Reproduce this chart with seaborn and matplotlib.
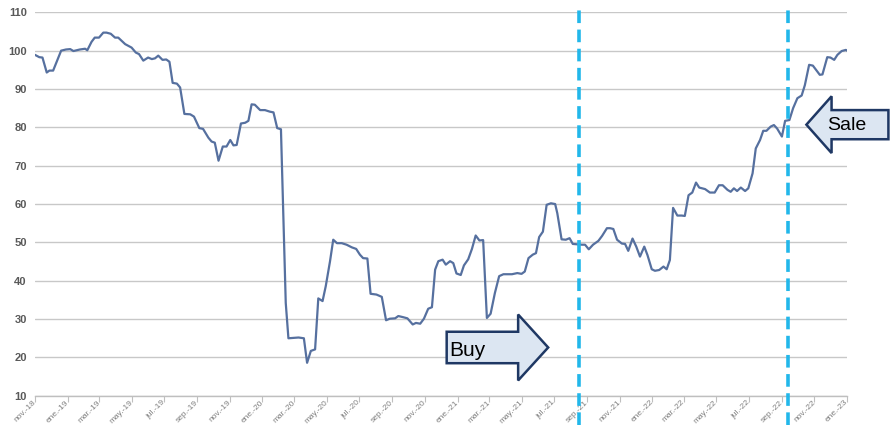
import matplotlib
matplotlib.use("Agg")
import matplotlib.pyplot as plt
import matplotlib.dates as mdates
from matplotlib.patches import Polygon
from matplotlib.ticker import FuncFormatter
import pandas as pd
import seaborn as sns

# price index
dates = [
    "2018-11-01", "2018-11-09", "2018-11-15", "2018-11-23", "2018-11-28", "2018-12-05",
    "2018-12-13", "2018-12-20", "2018-12-29", "2019-01-06", "2019-01-12", "2019-01-24",
    "2019-02-03", "2019-02-07", "2019-02-15", "2019-02-21", "2019-03-01", "2019-03-09",
    "2019-03-15", "2019-03-23", "2019-03-31", "2019-04-06", "2019-04-19", "2019-05-01",
    "2019-05-09", "2019-05-15", "2019-05-23", "2019-06-01", "2019-06-08", "2019-06-14",
    "2019-06-20", "2019-06-28", "2019-07-05", "2019-07-11", "2019-07-17", "2019-07-25",
    "2019-07-31", "2019-08-08", "2019-08-19", "2019-08-26", "2019-09-05", "2019-09-12",
    "2019-09-22", "2019-09-28", "2019-10-04", "2019-10-11", "2019-10-19", "2019-10-26",
    "2019-11-02", "2019-11-08", "2019-11-14", "2019-11-22", "2019-11-30", "2019-12-06",
    "2019-12-12", "2019-12-18", "2019-12-28", "2020-01-06", "2020-01-15", "2020-01-22",
    "2020-01-29", "2020-02-05", "2020-02-14", "2020-02-19", "2020-02-28", "2020-03-09",
    "2020-03-19", "2020-03-25", "2020-04-01", "2020-04-09", "2020-04-15", "2020-04-23",
    "2020-04-29", "2020-05-07", "2020-05-13", "2020-05-20", "2020-05-29", "2020-06-07",
    "2020-06-17", "2020-06-25", "2020-07-02", "2020-07-08", "2020-07-16", "2020-07-22",
    "2020-08-02", "2020-08-12", "2020-08-20", "2020-08-27", "2020-09-06", "2020-09-12",
    "2020-09-21", "2020-09-29", "2020-10-09", "2020-10-15", "2020-10-23", "2020-10-30",
    "2020-11-07", "2020-11-14", "2020-11-20", "2020-11-26", "2020-12-04", "2020-12-10",
    "2020-12-18", "2020-12-24", "2020-12-30", "2021-01-07", "2021-01-13", "2021-01-21",
    "2021-01-28", "2021-02-04", "2021-02-11", "2021-02-18", "2021-02-25", "2021-03-04",
    "2021-03-12", "2021-03-20", "2021-03-28", "2021-04-13", "2021-04-23", "2021-05-01",
    "2021-05-07", "2021-05-14", "2021-05-22", "2021-05-28", "2021-06-03", "2021-06-10",
    "2021-06-17", "2021-06-25", "2021-07-03", "2021-07-07", "2021-07-15", "2021-07-23",
    "2021-07-30", "2021-08-05", "2021-08-13", "2021-08-22", "2021-08-28", "2021-09-04",
    "2021-09-12", "2021-09-22", "2021-09-29", "2021-10-08", "2021-10-14", "2021-10-20",
    "2021-10-27", "2021-11-05", "2021-11-11", "2021-11-17", "2021-11-25", "2021-12-02",
    "2021-12-09", "2021-12-17", "2021-12-23", "2021-12-31", "2022-01-06", "2022-01-14",
    "2022-01-22", "2022-01-28", "2022-02-03", "2022-02-09", "2022-02-17", "2022-02-25",
    "2022-03-03", "2022-03-10", "2022-03-17", "2022-03-24", "2022-03-30", "2022-04-10",
    "2022-04-19", "2022-04-28", "2022-05-06", "2022-05-13", "2022-05-22", "2022-05-28",
    "2022-06-03", "2022-06-09", "2022-06-16", "2022-06-24", "2022-06-30", "2022-07-08",
    "2022-07-14", "2022-07-22", "2022-07-28", "2022-08-03", "2022-08-11", "2022-08-17",
    "2022-08-23", "2022-09-01", "2022-09-07", "2022-09-15", "2022-09-22", "2022-09-30",
    "2022-10-08", "2022-10-14", "2022-10-22", "2022-10-29", "2022-11-04", "2022-11-11",
    "2022-11-16", "2022-11-25", "2022-12-01", "2022-12-08", "2022-12-14", "2022-12-22",
    "2022-12-30", "2023-01-01",
]
values = [
    98.9, 98.3, 98.2, 94.3, 94.8, 94.8,
    97.6, 100.0, 100.3, 100.4, 99.9, 100.3,
    100.5, 100.1, 102.3, 103.4, 103.4, 104.7,
    104.7, 104.4, 103.4, 103.4, 101.7, 100.8,
    99.5, 99.1, 97.4, 98.2, 97.8, 98.0,
    98.7, 97.6, 97.7, 97.1, 91.6, 91.4,
    90.4, 83.5, 83.4, 82.8, 79.8, 79.6,
    77.3, 76.3, 76.0, 71.3, 75.0, 75.0,
    76.7, 75.3, 75.4, 81.0, 81.2, 81.7,
    86.0, 85.9, 84.5, 84.5, 84.1, 83.9,
    79.8, 79.5, 34.2, 25.0, 25.1, 25.2,
    25.0, 18.6, 21.7, 22.1, 35.4, 34.7,
    38.6, 45.1, 50.7, 49.8, 49.8, 49.4,
    48.7, 48.3, 46.8, 45.9, 45.8, 36.6,
    36.4, 35.8, 29.7, 30.1, 30.2, 30.8,
    30.5, 30.2, 28.6, 29.0, 28.8, 30.1,
    32.7, 33.1, 42.9, 45.1, 45.5, 44.2,
    45.1, 44.6, 41.9, 41.5, 44.0, 45.6,
    48.3, 51.8, 50.5, 50.6, 30.3, 31.4,
    36.8, 41.2, 41.7, 41.7, 42.0, 41.8,
    42.4, 45.9, 46.8, 47.2, 51.4, 52.8,
    59.8, 60.2, 60.0, 57.6, 50.8, 50.7,
    51.1, 49.6, 49.5, 49.4, 49.4, 48.2,
    49.4, 50.4, 51.7, 53.7, 53.7, 53.5,
    50.7, 49.7, 49.6, 47.8, 51.0, 48.9,
    46.3, 48.9, 46.7, 43.0, 42.6, 42.8,
    43.7, 43.0, 45.4, 59.0, 57.0, 57.0,
    56.9, 62.3, 63.0, 65.6, 64.3, 63.9,
    63.0, 63.0, 64.9, 64.9, 63.7, 63.2,
    64.1, 63.4, 64.3, 63.4, 64.1, 68.0,
    74.5, 76.7, 79.1, 79.1, 80.2, 80.6,
    79.7, 77.6, 81.7, 81.9, 85.0, 87.6,
    88.3, 91.0, 96.3, 96.1, 95.0, 93.7,
    93.8, 98.3, 98.2, 97.6, 98.9, 99.9,
    100.2, 100.0,
]
buy_date = "2021-08-17"
sale_date = "2022-09-13"
month_abbr = ["ene.", "feb.", "mar.", "abr.", "may.", "jun.",
              "jul.", "ago.", "sep.", "oct.", "nov.", "dic."]
tick_months = (1, 3, 5, 7, 9, 11)
y_ticks = list(range(10, 111, 10))

df = pd.DataFrame({"date": pd.to_datetime(dates), "value": values})

sns.set_style("white")
plt.rcParams["font.family"] = ["Liberation Sans", "DejaVu Sans"]

W, H = 894, 425
fig = plt.figure(figsize=(W / 100, H / 100), dpi=100)
ax = fig.add_axes([35 / W, 1 - 395.8 / H, 812 / W, 383.5 / H])

sns.lineplot(data=df, x="date", y="value", ax=ax, color="#56709f", linewidth=1.6, zorder=3)

ax.set_xlim(pd.Timestamp("2018-11-01"), pd.Timestamp("2023-01-01"))
ax.set_ylim(10, 110)
ax.set_yticks(y_ticks)
ax.set_xlabel("")
ax.set_ylabel("")
ax.yaxis.grid(True, color="#c8c8c8", linewidth=1)
ax.xaxis.grid(False)
for side in ["left", "right", "top"]:
    ax.spines[side].set_visible(False)
ax.spines["bottom"].set_color("#bfbfbf")
ax.spines["bottom"].set_linewidth(1)


def fmt_month(v, pos):
    d = mdates.num2date(v)
    return f"{month_abbr[d.month - 1]}-{d.year % 100:02d}"


ax.xaxis.set_major_locator(mdates.MonthLocator(bymonth=tick_months))
ax.xaxis.set_major_formatter(FuncFormatter(fmt_month))
ax.tick_params(axis="x", length=4, color="#bfbfbf", labelsize=6,
               labelcolor="#7f7f7f", pad=0, bottom=True)
for lbl in ax.get_xticklabels():
    lbl.set_rotation(45)
    lbl.set_ha("right")
    lbl.set_va("center")
    lbl.set_rotation_mode("anchor")
ax.tick_params(axis="y", length=0, labelsize=8, labelcolor="#595959", pad=6)
for lbl in ax.get_yticklabels():
    lbl.set_fontweight("bold")

# buy / sale markers
for d in [buy_date, sale_date]:
    ax.axvline(pd.Timestamp(d), ymin=-0.076, ymax=1.006, color="#22b7ea",
               linewidth=2.6, linestyle=(0, (3.5, 1.8)), clip_on=False, zorder=4)


def block_arrow(tail, neck, tip, yc, body, head):
    pts = [(tail, yc + body), (neck, yc + body), (neck, yc + head), (tip, yc),
           (neck, yc - head), (neck, yc - body), (tail, yc - body)]
    ax.add_patch(Polygon(pts, closed=True, transform=ax.transAxes, clip_on=False,
                         facecolor="#dce6f2", edgecolor="#1f3864", linewidth=1.8,
                         joinstyle="miter", zorder=5))


block_arrow(0.507, 0.595, 0.632, 0.126, 0.041, 0.086)
ax.text(0.510, 0.105, "Buy", transform=ax.transAxes, fontsize=15,
        ha="left", va="baseline", color="black", zorder=6)

block_arrow(1.051, 0.981, 0.950, 0.707, 0.038, 0.074)
ax.text(0.975, 0.693, "Sale", transform=ax.transAxes, fontsize=14,
        ha="left", va="baseline", color="black", zorder=6)

fig.savefig("out.png", dpi=100)
